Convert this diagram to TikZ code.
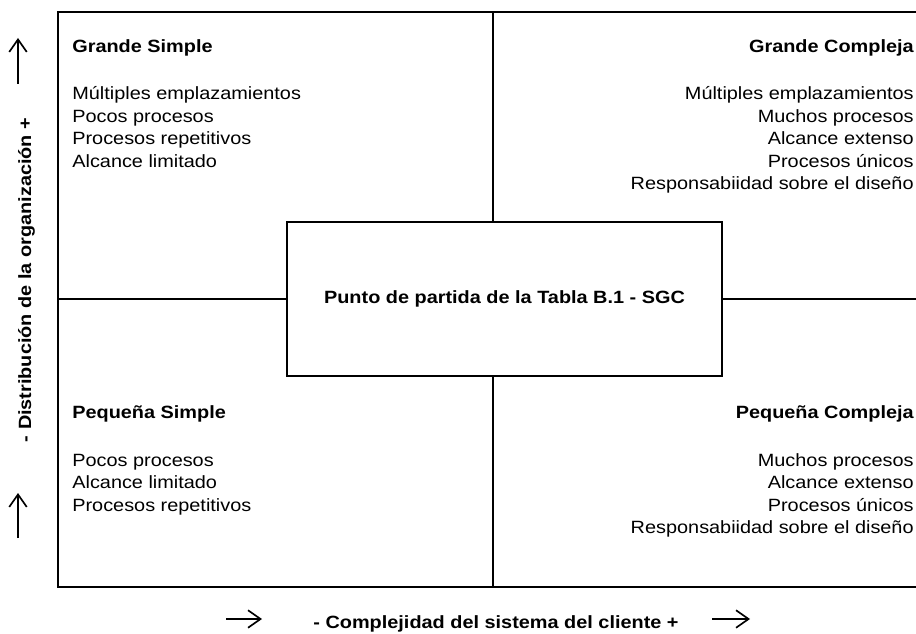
\documentclass[tikz,border=0pt]{standalone}
\usepackage{fontspec}
\setmainfont{Liberation Sans}[FakeStretch=1.12]
\usetikzlibrary{arrows.meta}
\newcommand{\quadfont}{\fontsize{10.65}{13}\selectfont}
\tikzset{
  quadtitle/.style={inner sep=0pt,font=\quadfont\bfseries},
  quaditem/.style={inner sep=0pt,font=\quadfont},
  axislabel/.style={inner sep=0pt,font=\quadfont\bfseries},
  axisarrow/.style={line width=1pt,-{Straight Barb[length=7.5pt,width=10.5pt]}},
  divider/.style={line width=0.9pt},
}
\begin{document}
\begin{tikzpicture}[x=0.6pt,y=-0.6pt]
	\useasboundingbox (0,0) rectangle (916,634);
	% frame and quadrants
	\draw[line width=1.2pt] (58,12) rectangle (930,587);
	\coordinate (ftop) at (493,12);
	\coordinate (fbottom) at (493,587);
	\coordinate (fleft) at (58,299);
	\coordinate (fright) at (930,299);
	\node[draw,line width=1.1pt,minimum width=261pt,minimum height=92.4pt,font=\quadfont\bfseries] (punto) at (504.5,299) {Punto de partida de la Tabla B.1 - SGC};
	\draw[divider] (ftop) -- (ftop |- punto.north) (fbottom |- punto.south) -- (fbottom);
	\draw[divider] (fleft) -- (punto.west) (punto.east) -- (fright);
	% quadrant texts
	\node[quadtitle,anchor=base west] (gsimple) at (72,53) {Grande Simple};
	\foreach \txt [count=\i] in {Múltiples emplazamientos, Pocos procesos, Procesos repetitivos, Alcance limitado}
		\node[quaditem,anchor=base west] (gsimple\i) at (72,{77.5+22.5*\i}) {\txt};
	\node[quadtitle,anchor=base east] (gcompleja) at (914,53) {Grande Compleja};
	\foreach \txt [count=\i] in {Múltiples emplazamientos, Muchos procesos, Alcance extenso, Procesos únicos, Responsabiidad sobre el diseño}
		\node[quaditem,anchor=base east] (gcompleja\i) at (914,{77.5+22.5*\i}) {\txt};
	\node[quadtitle,anchor=base west] (psimple) at (72,418) {Pequeña Simple};
	\foreach \txt [count=\i] in {Pocos procesos, Alcance limitado, Procesos repetitivos}
		\node[quaditem,anchor=base west] (psimple\i) at (72,{443.5+22.5*\i}) {\txt};
	\node[quadtitle,anchor=base east] (pcompleja) at (914,418) {Pequeña Compleja};
	\foreach \txt [count=\i] in {Muchos procesos, Alcance extenso, Procesos únicos, Responsabiidad sobre el diseño}
		\node[quaditem,anchor=base east] (pcompleja\i) at (914,{443.5+22.5*\i}) {\txt};
	% axes
	\node[axislabel,rotate=90,anchor=base] (distribucion) at (31,280) {- Distribución de la organización +};
	\coordinate (vtopA) at (18,84);
	\coordinate (vtopB) at (18,38);
	\coordinate (vbotA) at (18,538);
	\coordinate (vbotB) at (18,493);
	\draw[axisarrow] (vtopA) -- (vtopB);
	\draw[axisarrow] (vbotA) -- (vbotB);
	\node[axislabel,anchor=base] (complejidad) at (496,628) {- Complejidad del sistema del cliente +};
	\coordinate (hleftA) at (226,619);
	\coordinate (hleftB) at (262,619);
	\coordinate (hrightA) at (712,619);
	\coordinate (hrightB) at (750,619);
	\draw[axisarrow] (hleftA) -- (hleftB);
	\draw[axisarrow] (hrightA) -- (hrightB);
\end{tikzpicture}
\end{document}
